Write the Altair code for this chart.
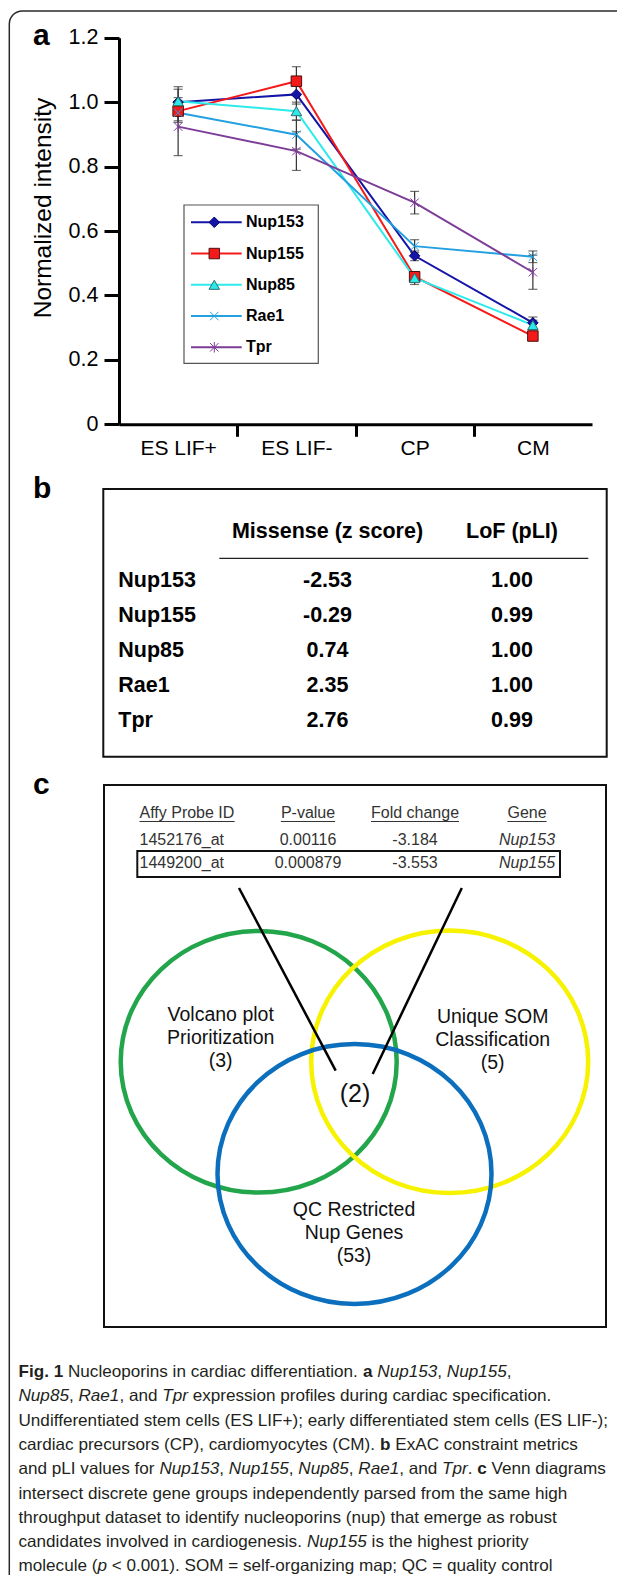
import altair as alt
import pandas as pd

# ---------------- data ----------------
stages = ["ES LIF+", "ES LIF-", "CP", "CM"]
genes = ["Nup153", "Nup155", "Nup85", "Rae1", "Tpr"]
nup153 = [1.000, 1.024, 0.523, 0.315]
nup155 = [0.972, 1.065, 0.458, 0.274]
nup85 = [1.003, 0.972, 0.454, 0.308]
rae1 = [0.967, 0.899, 0.553, 0.520]
tpr = [0.924, 0.848, 0.688, 0.472]
nup153_err = [0.040, 0.030, 0.015, 0.018]
nup155_err = [0.030, 0.045, 0.015, 0.012]
nup85_err = [0.045, 0.028, 0.020, 0.015]
rae1_err = [0.030, 0.045, 0.020, 0.018]
tpr_err = [0.090, 0.060, 0.035, 0.053]
y_ticks = [0, 0.2, 0.4, 0.6, 0.8, 1.0, 1.2]

missense_z = [-2.53, -0.29, 0.74, 2.35, 2.76]
lof_pli = [1.00, 0.99, 1.00, 1.00, 0.99]
table_b_cols = ["Missense (z score)", "LoF (pLI)"]

probe_ids = ["1452176_at", "1449200_at"]
p_values = ["0.00116", "0.000879"]
fold_changes = ["-3.184", "-3.553"]
probe_genes = ["Nup153", "Nup155"]
table_c_cols = ["Affy Probe ID", "P-value", "Fold change", "Gene"]

venn_labels = ["Volcano plot\nPrioritization\n(3)",
               "Unique SOM\nClassification\n(5)",
               "QC Restricted\nNup Genes\n(53)"]
venn_overlap = "(2)"
panel_letters = ["a", "b", "c"]

caption = [
    [("Fig. 1", "b"), (" Nucleoporins in cardiac differentiation. ", "r"), ("a", "b"), (" ", "r"),
     ("Nup153", "i"), (", ", "r"), ("Nup155", "i"), (",", "r")],
    [("Nup85", "i"), (", ", "r"), ("Rae1", "i"), (", and ", "r"), ("Tpr", "i"),
     (" expression profiles during cardiac specification.", "r")],
    [("Undifferentiated stem cells (ES LIF+); early differentiated stem cells (ES LIF-);", "r")],
    [("cardiac precursors (CP), cardiomyocytes (CM). ", "r"), ("b", "b"), (" ExAC constraint metrics", "r")],
    [("and pLI values for ", "r"), ("Nup153", "i"), (", ", "r"), ("Nup155", "i"), (", ", "r"),
     ("Nup85", "i"), (", ", "r"), ("Rae1", "i"), (", and ", "r"), ("Tpr", "i"), (". ", "r"),
     ("c", "b"), (" Venn diagrams", "r")],
    [("intersect discrete gene groups independently parsed from the same high", "r")],
    [("throughput dataset to identify nucleoporins (nup) that emerge as robust", "r")],
    [("candidates involved in cardiogenesis. ", "r"), ("Nup155", "i"), (" is the highest priority", "r")],
    [("molecule (", "r"), ("p", "i"), (" < 0.001). SOM = self-organizing map; QC = quality control", "r")],
]

# ---------------- styling ----------------
W, H = 609, 1567
FONT = "Liberation Sans, Arial, Helvetica, sans-serif"
CAP_FONT = "Liberation Sans, Arial, Helvetica, sans-serif"
CAP_COLOR = "#231f20"
line_colors = ["#1414A8", "#F51A1A", "#2CEAEA", "#22A0E0", "#7D3C98"]
edge_colors = ["#00006A", "#4A1010", "#2F6F6F", "#22A0E0", "#7D3C98"]
edge_widths = [1, 1, 1, 2, 2]
shapes = ["diamond", "square", "triangle-up",
          "M-0.8,-0.8L0.8,0.8M-0.8,0.8L0.8,-0.8",
          "M-0.8,-0.8L0.8,0.8M-0.8,0.8L0.8,-0.8M0,-1L0,1"]

color_sc = alt.Scale(domain=genes, range=line_colors)
shape_sc = alt.Scale(domain=genes, range=shapes)
stroke_sc = alt.Scale(domain=genes, range=edge_colors)
sw_sc = alt.Scale(domain=genes, range=edge_widths)

# ---------------- Arial (Liberation Sans) advance widths ----------------
UP = "ABCDEFGHIJKLMNOPQRSTUVWXYZ"
LO = "abcdefghijklmnopqrstuvwxyz"
REG = dict(zip(UP, [667, 667, 722, 722, 667, 611, 778, 722, 278, 500, 667, 556, 833, 722, 778, 667, 778, 722,
                    667, 611, 722, 667, 944, 667, 667, 611]))
REG.update(dict(zip(LO, [556, 556, 500, 556, 556, 278, 556, 556, 222, 222, 500, 222, 833, 556, 556, 556, 556,
                         333, 500, 278, 556, 500, 722, 500, 500, 500])))
REG.update({" ": 278, "(": 333, ")": 333, "+": 584, ",": 278, "-": 333, ".": 278, ";": 278, ":": 278,
            "<": 584, "=": 584, "_": 556})
BOLD = dict(zip(UP, [722, 722, 722, 722, 667, 611, 778, 722, 278, 556, 722, 611, 833, 722, 778, 667, 778, 722,
                     667, 611, 722, 667, 944, 667, 667, 611]))
BOLD.update(dict(zip(LO, [556, 611, 556, 611, 556, 333, 611, 611, 278, 278, 556, 278, 889, 611, 611, 611, 611,
                          389, 556, 333, 611, 556, 778, 556, 556, 500])))
BOLD.update({" ": 278, "(": 333, ")": 333, ",": 278, ".": 278, ";": 333, "-": 333})


def text_em(s, bold=False):
    tbl = BOLD if bold else REG
    return sum(tbl.get(ch, 556) for ch in s) / 1000.0


# ---------------- panel a : line chart ----------------
means = dict(zip(genes, [nup153, nup155, nup85, rae1, tpr]))
errs = dict(zip(genes, [nup153_err, nup155_err, nup85_err, rae1_err, tpr_err]))
rows = []
for g in genes:
    for i, s in enumerate(stages):
        rows.append({"gene": g, "stage": s, "pos": i + 0.5, "value": means[g][i],
                     "lo": means[g][i] - errs[g][i], "hi": means[g][i] + errs[g][i]})
df_a = pd.DataFrame(rows)

xa = alt.Scale(domain=[0, 4], range=[111, 584])
ya = alt.Scale(domain=[0, 1.2], range=[416.3, 29.7])
stage_js = "[" + ",".join("'" + s + "'" for s in stages) + "]"
x_axis = alt.Axis(values=[0.5, 1, 1.5, 2, 2.5, 3, 3.5],
                  labelExpr=f"datum.value % 1 == 0 ? '' : {stage_js}[floor(datum.value)]",
                  tickOpacity={"condition": {"test": "datum.value % 1 == 0", "value": 1}, "value": 0},
                  offset=-(H - 416.3), domainWidth=3, domainColor="black", tickWidth=3, tickColor="black",
                  tickSize=12, labelFont=FONT, labelFontSize=21, labelColor="black", labelPadding=1,
                  labelOverlap=False, labelFlush=False, grid=False, title=None, zindex=1)
y_axis = alt.Axis(values=y_ticks,
                  labelExpr="datum.value == 0 ? '0' : format(datum.value, '.1f')",
                  offset=-111, domainWidth=3, domainColor="black", tickWidth=3, tickColor="black",
                  tickSize=15, labelFont=FONT, labelFontSize=21.5, labelColor="black", labelPadding=6,
                  labelOverlap=False, grid=False, title="Normalized intensity", titleFont=FONT,
                  titleFontSize=24.5, titleFontWeight="normal", titleColor="black", titleX=-76,
                  titleY=199.5, titleBaseline="middle", titleAlign="center", zindex=1)

base_a = alt.Chart(df_a)
X_a = alt.X("pos:Q", scale=xa, axis=x_axis)
Y_a = alt.Y("value:Q", scale=ya, axis=y_axis)
lines = base_a.mark_line(strokeWidth=2).encode(
    x=X_a, y=Y_a, color=alt.Color("gene:N", scale=color_sc, legend=None))
err_v = base_a.mark_rule(color="#333333", strokeWidth=1.2).encode(
    x=X_a, y=alt.Y("lo:Q", scale=ya, axis=y_axis), y2="hi:Q")
err_lo = base_a.mark_tick(orient="horizontal", size=9, thickness=1.2, color="#333333").encode(
    x=X_a, y=alt.Y("lo:Q", scale=ya, axis=y_axis))
err_hi = base_a.mark_tick(orient="horizontal", size=9, thickness=1.2, color="#333333").encode(
    x=X_a, y=alt.Y("hi:Q", scale=ya, axis=y_axis))
pts = base_a.mark_point(filled=True, size=110, opacity=1).encode(
    x=X_a, y=Y_a,
    color=alt.Color("gene:N", scale=color_sc, legend=None),
    shape=alt.Shape("gene:N", scale=shape_sc, legend=None),
    stroke=alt.Stroke("gene:N", scale=stroke_sc, legend=None),
    strokeWidth=alt.StrokeWidth("gene:N", scale=sw_sc, legend=None))
panel_a = alt.layer(lines, err_v, err_lo, err_hi, pts)

# legend inside panel a
df_leg = pd.DataFrame({"gene": genes})
leg_y = alt.Y("gene:N", scale=alt.Scale(type="point", domain=genes, range=[214.3, 339.3], padding=0), axis=None)
leg_box = alt.Chart(df_leg.head(1)).mark_rect(fill="white", stroke="#555555", strokeWidth=1.2).encode(
    x=alt.value(176), x2=alt.value(310.3), y=alt.value(197), y2=alt.value(355.3))
leg_lines = alt.Chart(df_leg).mark_rule(strokeWidth=2).encode(
    x=alt.value(183), x2=alt.value(233.7), y=leg_y, color=alt.Color("gene:N", scale=color_sc, legend=None))
leg_pts = alt.Chart(df_leg).mark_point(filled=True, size=110, opacity=1).encode(
    x=alt.value(206.3), y=leg_y,
    color=alt.Color("gene:N", scale=color_sc, legend=None),
    shape=alt.Shape("gene:N", scale=shape_sc, legend=None),
    stroke=alt.Stroke("gene:N", scale=stroke_sc, legend=None),
    strokeWidth=alt.StrokeWidth("gene:N", scale=sw_sc, legend=None))
leg_txt = alt.Chart(df_leg).mark_text(align="left", baseline="middle", font=FONT, fontSize=16,
                                      fontWeight="bold", color="black").encode(
    x=alt.value(238), y=leg_y, text="gene:N")

# ---------------- outer frame and panel letters ----------------
one = pd.DataFrame({"k": [0]})
frame = alt.Chart(one).mark_rect(fill="transparent", stroke="#2a2a2a", strokeWidth=1.5, cornerRadius=13).encode(
    x=alt.value(1.3), x2=alt.value(660), y=alt.value(3), y2=alt.value(1620))
letter_layers = []
for letter, ly in zip(panel_letters, [37, 490, 786]):
    letter_layers.append(alt.Chart(pd.DataFrame({"t": [letter]})).mark_text(
        align="left", baseline="alphabetic", font=FONT, fontSize=30, fontWeight="bold", color="black").encode(
        x=alt.value(25), y=alt.value(ly), text="t:N"))

# ---------------- panel b : table ----------------
df_b = pd.DataFrame({"gene": genes})
df_b_long = pd.DataFrame({
    "gene": genes * 2,
    "col": [table_b_cols[0]] * len(genes) + [table_b_cols[1]] * len(genes),
    "val": ["{:.2f}".format(v) for v in missense_z + lof_pli]})
rows_b = alt.Y("gene:N", scale=alt.Scale(type="point", domain=genes, range=[573, 712.7], padding=0), axis=None)
cols_b = alt.X("col:N", scale=alt.Scale(type="point", domain=table_b_cols, range=[319.5, 504], padding=0),
               axis=None)
box_b = alt.Chart(one).mark_rect(fill="white", stroke="#111111", strokeWidth=2).encode(
    x=alt.value(95.3), x2=alt.value(598.7), y=alt.value(481), y2=alt.value(748.7))
rule_b = alt.Chart(one).mark_rule(color="#222222", strokeWidth=1.3).encode(
    x=alt.value(211.3), x2=alt.value(580.3), y=alt.value(550.3))
txt_b_names = alt.Chart(df_b).mark_text(align="left", baseline="middle", font=FONT, fontSize=21.5,
                                        fontWeight="bold", color="black").encode(
    x=alt.value(110.3), y=rows_b, text="gene:N")
txt_b_vals = alt.Chart(df_b_long).mark_text(align="center", baseline="middle", font=FONT, fontSize=21.5,
                                            fontWeight="bold", color="black").encode(
    x=cols_b, y=rows_b, text="val:N")
txt_b_head = alt.Chart(pd.DataFrame({"col": table_b_cols})).mark_text(
    align="center", baseline="middle", font=FONT, fontSize=21.5, fontWeight="bold", color="black").encode(
    x=cols_b, y=alt.value(523.7), text="col:N")

# ---------------- panel c : probe table + venn ----------------
df_c = pd.DataFrame({"probe": probe_ids, "gene": probe_genes})
df_c_long = pd.DataFrame({
    "probe": probe_ids * 2,
    "col": [table_c_cols[1]] * 2 + [table_c_cols[2]] * 2,
    "val": p_values + fold_changes})
rows_c = alt.Y("probe:N", scale=alt.Scale(type="point", domain=probe_ids, range=[832, 855.3], padding=0),
               axis=None)
TBL_FS = 16
TBL_COL = "#333333"
c_left = 131.5
c_centers = {"P-value": 300, "Fold change": 407, "Gene": 519}
box_c = alt.Chart(one).mark_rect(fill="white", stroke="#111111", strokeWidth=2).encode(
    x=alt.value(96), x2=alt.value(598), y=alt.value(777), y2=alt.value(1319))
hl_box = alt.Chart(one).mark_rect(fill="transparent", stroke="#111111", strokeWidth=2).encode(
    x=alt.value(129.3), x2=alt.value(552), y=alt.value(843), y2=alt.value(869))
txt_c_probe = alt.Chart(df_c).mark_text(align="left", baseline="middle", font=FONT, fontSize=TBL_FS,
                                        color=TBL_COL).encode(x=alt.value(c_left), y=rows_c, text="probe:N")
txt_c_vals = alt.Chart(df_c_long).mark_text(align="center", baseline="middle", font=FONT, fontSize=TBL_FS,
                                            color=TBL_COL).encode(
    x=alt.X("col:N", scale=alt.Scale(type="point", domain=table_c_cols[1:3], padding=0,
                                     range=[c_centers["P-value"], c_centers["Fold change"]]), axis=None),
    y=rows_c, text="val:N")
txt_c_gene = alt.Chart(df_c).mark_text(align="center", baseline="middle", font=FONT, fontSize=TBL_FS,
                                       fontStyle="italic", color=TBL_COL).encode(
    x=alt.value(c_centers["Gene"]), y=rows_c, text="gene:N")
head_layers = []
underlines = []
for c in table_c_cols:
    w = text_em(c) * TBL_FS
    if c == table_c_cols[0]:
        x0, anchor, al = c_left, c_left, "left"
    else:
        x0, anchor, al = c_centers[c] - w / 2, c_centers[c], "center"
    head_layers.append(alt.Chart(pd.DataFrame({"t": [c]})).mark_text(
        align=al, baseline="middle", font=FONT, fontSize=TBL_FS, color=TBL_COL).encode(
        x=alt.value(anchor), y=alt.value(804.7), text="t:N"))
    underlines.append(alt.Chart(one).mark_rule(color=TBL_COL, strokeWidth=1).encode(
        x=alt.value(x0), x2=alt.value(x0 + w), y=alt.value(813.5)))

# connector lines
conn1 = alt.Chart(one).mark_rule(color="black", strokeWidth=2.5).encode(
    x=alt.value(231), x2=alt.value(327.7), y=alt.value(880), y2=alt.value(1062.7))
conn2 = alt.Chart(one).mark_rule(color="black", strokeWidth=2.5).encode(
    x=alt.value(453.8), x2=alt.value(364.7), y=alt.value(880), y2=alt.value(1066))

ELLIPSE = "M-1,0A1,0.948,0,1,0,1,0A1,0.948,0,1,0,-1,0Z"
venn_specs = [("#22A54B", 250.7, 1053.8, 138.0),
              ("#F6F200", 441.7, 1053.8, 138.5),
              ("#0B6FBE", 346.5, 1166.0, 137.0)]
ellipses = []
for col, cx, cy, rx in venn_specs:
    ellipses.append(alt.Chart(one).mark_point(shape=ELLIPSE, size=(2 * rx) ** 2, filled=False,
                                              strokeWidth=4.5, color=col, opacity=1).encode(
        x=alt.value(cx), y=alt.value(cy)))
venn_pos = [(212.7, 1007), (484.7, 1009.3), (346, 1202)]
venn_txt = []
for lab, (vx, vy) in zip(venn_labels, venn_pos):
    venn_txt.append(alt.Chart(pd.DataFrame({"t": [lab]})).mark_text(
        align="center", baseline="middle", font=FONT, fontSize=19.5, lineBreak="\n", lineHeight=23,
        color="#111111").encode(x=alt.value(vx), y=alt.value(vy), text="t:N"))
venn_txt.append(alt.Chart(pd.DataFrame({"t": [venn_overlap]})).mark_text(
    align="center", baseline="middle", font=FONT, fontSize=25, color="#111111").encode(
    x=alt.value(347), y=alt.value(1086.3), text="t:N"))

# ---------------- caption ----------------
cap_rows = []
for li, segs in enumerate(caption):
    cur = 0.0
    for txt, sty in segs:
        lead = len(txt) - len(txt.lstrip(" "))
        start = cur + text_em(" " * lead, sty == "b")
        if txt.strip(" "):
            cap_rows.append({"line": li, "em": start, "text": txt.strip(" "), "style": sty})
        cur += text_em(txt, sty == "b")
cap_df = pd.DataFrame(cap_rows)
line3_em = text_em(caption[2][0][0])
CAP_X0 = 10.5
CAP_FS = (601.0 - CAP_X0) / line3_em
cap_x = alt.Scale(domain=[0, 10], range=[CAP_X0, CAP_X0 + 10 * CAP_FS])
cap_y = alt.Scale(domain=[0, 8], range=[1364, 1364 + 8 * 24.3])
cap_layers = []
for sty, wt, fst in [("r", "normal", "normal"), ("b", "bold", "normal"), ("i", "normal", "italic")]:
    cap_layers.append(alt.Chart(cap_df).transform_filter(alt.datum.style == sty).mark_text(
        align="left", baseline="middle", font=CAP_FONT, fontSize=CAP_FS, fontWeight=wt, fontStyle=fst,
        color=CAP_COLOR).encode(
        x=alt.X("em:Q", scale=cap_x, axis=None), y=alt.Y("line:Q", scale=cap_y, axis=None), text="text:N"))

# ---------------- assemble ----------------
chart = alt.layer(
    frame, *letter_layers,
    panel_a, leg_box, leg_lines, leg_pts, leg_txt,
    box_b, rule_b, txt_b_head, txt_b_names, txt_b_vals,
    box_c, *ellipses, conn1, conn2, hl_box, *head_layers, *underlines,
    txt_c_probe, txt_c_vals, txt_c_gene, *venn_txt,
    *cap_layers,
).resolve_scale(x="independent", y="independent").properties(
    width=W, height=H, padding=0, autosize=alt.AutoSizeParams(type="none")
).configure_view(stroke=None)

chart.save("out.html", embed_options={"renderer": "svg", "actions": False})
